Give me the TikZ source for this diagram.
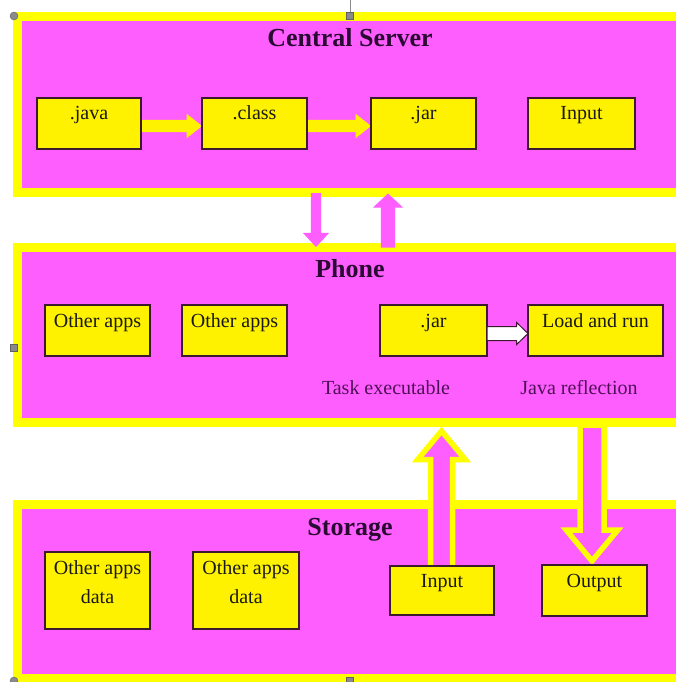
\documentclass[tikz,border=0pt]{standalone}
\usepackage{fontspec}
\setmainfont{Liberation Serif}
\usetikzlibrary{shapes.arrows,calc}

\definecolor{panelpink}{HTML}{FF5EFF}
\definecolor{paneledge}{HTML}{FFFF00}
\definecolor{boxedge}{HTML}{3C1A2E}
\definecolor{titleink}{HTML}{2A0A33}
\definecolor{noteink}{HTML}{4E1055}
\definecolor{handlegray}{HTML}{8A8A8A}

\pgfdeclarelayer{panels}
\pgfdeclarelayer{links}
\pgfsetlayers{panels,links,main}

\begin{document}
\begin{tikzpicture}[x=1pt,y=-1pt,
  panel/.style={rectangle, draw=paneledge, fill=panelpink, line width=9pt,
    outer sep=0pt, inner sep=0pt, minimum width=662.5pt},
  filebox/.style={rectangle, draw=boxedge, fill=yellow, line width=1.2pt,
    outer sep=0pt, inner sep=0pt},
  boxtext/.style={anchor=base, inner sep=0pt, text=black!90,
    font=\fontsize{20}{29}\selectfont},
  paneltitle/.style={anchor=base, inner sep=0pt, text=titleink,
    font=\bfseries\fontsize{26}{30}\selectfont},
  note/.style={anchor=base, inner sep=0pt, text=noteink,
    font=\fontsize{20}{24}\selectfont},
  flow/.style={single arrow, anchor=tail, inner xsep=0pt, outer sep=0pt},
  bigflow/.style={fill=panelpink, draw=paneledge, line width=5.5pt,
    line join=miter, miter limit=10},
  handle/.style={fill=handlegray, draw=handlegray!70!black, line width=0.4pt}
]
\useasboundingbox (0,0) rectangle (676,682);

% ---------- the three layers ----------
\begin{pgfonlayer}{panels}
\fill[white] (0,0) rectangle (676,682);
\node[panel, minimum height=175.5pt] (central) at (348.75,104.25) {};
\node[panel, minimum height=175pt]   (phone)   at (348.75,335) {};
\node[panel, minimum height=174pt]   (storage) at (348.75,591.5) {};
\end{pgfonlayer}

\node[paneltitle] (ctitle) at (350,47)  {Central Server};
\node[paneltitle] (ptitle) at (350,277) {Phone};
\node[paneltitle] (stitle) at (350,535) {Storage};

% ---------- central server ----------
\node[filebox, minimum width=104pt, minimum height=51pt] (java)   at (89,123.5)    {};
\node[filebox, minimum width=105pt, minimum height=51pt] (class)  at (254.5,123.5) {};
\node[filebox, minimum width=105pt, minimum height=51pt] (cjar)   at (423.5,123.5) {};
\node[filebox, minimum width=107pt, minimum height=51pt] (cinput) at (581.5,123.5) {};
\node[boxtext] at ([yshift=-22pt]java.north)   {.java};
\node[boxtext] at ([yshift=-22pt]class.north)  {.class};
\node[boxtext] at ([yshift=-22pt]cjar.north)   {.jar};
\node[boxtext] at ([yshift=-22pt]cinput.north) {Input};

\begin{pgfonlayer}{links}
\node[flow, fill=yellow, minimum height=61pt, inner ysep=6pt,
      single arrow head extend=6pt, single arrow tip angle=77]
  (a1) at ([yshift=-2.5pt]java.east) {};
\node[flow, fill=yellow, minimum height=64pt, inner ysep=6pt,
      single arrow head extend=6pt, single arrow tip angle=77]
  (a2) at ([yshift=-2.5pt]class.east) {};
\end{pgfonlayer}

% ---------- exchange between server and phone ----------
\coordinate (dtop) at (316,0);
\coordinate (utop) at (388,0);
\begin{pgfonlayer}{links}
\node[flow, fill=panelpink, minimum height=54pt, inner ysep=5pt,
      single arrow head extend=8pt, single arrow tip angle=86, rotate=-90]
  (down1) at ([yshift=-1pt]dtop |- central.south) {};
\node[flow, fill=panelpink, minimum height=54pt, inner ysep=7pt,
      single arrow head extend=8pt, single arrow tip angle=94, rotate=90]
  (up1) at (utop |- phone.north) {};
\end{pgfonlayer}

% ---------- phone ----------
\node[filebox, minimum width=105pt, minimum height=51pt] (apps1) at (97.5,330.5)  {};
\node[filebox, minimum width=105pt, minimum height=51pt] (apps2) at (234.5,330.5) {};
\node[filebox, minimum width=107pt, minimum height=51pt] (pjar)  at (433.5,330.5) {};
\node[filebox, minimum width=135pt, minimum height=51pt] (load)  at (595.5,330.5) {};
\node[boxtext] at ([yshift=-22pt]apps1.north) {Other apps};
\node[boxtext] at ([yshift=-22pt]apps2.north) {Other apps};
\node[boxtext] at ([yshift=-22pt]pjar.north)  {.jar};
\node[boxtext] at ([yshift=-22pt]load.north)  {Load and run};

\node[flow, fill=white, draw=boxedge, line width=1pt,
      minimum height=41pt, inner ysep=6.5pt,
      single arrow head extend=4pt, single arrow tip angle=88]
  (a3) at ([yshift=-3pt]pjar.east) {};

\node[note] (tasklbl) at (386,394) {Task executable};
\node[note] (refllbl) at (579,394) {Java reflection};

% ---------- storage ----------
\node[filebox, minimum width=105pt, minimum height=77pt] (data1)  at (97.5,590.5) {};
\node[filebox, minimum width=106pt, minimum height=77pt] (data2)  at (246,590.5)  {};
\node[filebox, minimum width=104pt, minimum height=49pt] (sinput) at (442,590.5)  {};
\node[filebox, minimum width=105pt, minimum height=51pt] (output) at (594.5,590.5) {};
\node[boxtext] at ([yshift=-22pt]data1.north) {Other apps};
\node[boxtext] at ([yshift=-51pt]data1.north) {data};
\node[boxtext] at ([yshift=-22pt]data2.north) {Other apps};
\node[boxtext] at ([yshift=-51pt]data2.north) {data};
\node[boxtext] at ([yshift=-21pt]sinput.north) {Input};
\node[boxtext] at ([yshift=-22pt]output.north) {Output};

% ---------- exchange between phone and storage ----------
\coordinate (bigup)   at (441.5,0);
\coordinate (bigdown) at (592,0);
\coordinate (upfoot)  at (bigup |- sinput.north);
\coordinate (downtop) at (bigdown |- phone.south);
\begin{pgfonlayer}{links}
% input read by the task: storage up to phone
\draw[bigflow] (upfoot) ++(-11,4) -- ++(0,-110.5) -- ++(-12.75,0)
  -- ++(23.75,-28.5) -- ++(23.75,28.5) -- ++(-12.75,0) -- ++(0,110.5) -- cycle;
% output written back: phone down to storage
\draw[bigflow] (downtop) ++(-12,2.5) -- ++(0,105) -- ++(-13.75,0)
  -- ++(25.75,31) -- ++(25.75,-31) -- ++(-13.75,0) -- ++(0,-105) -- cycle;
\end{pgfonlayer}

% ---------- selection handles ----------
\draw[handlegray, line width=0.8pt] (350,0) -- (350,12.5);
\path[handle] (14,16) circle (4);
\path[handle] (346.5,12.5) rectangle (353.5,19.5);
\path[handle] (10.5,344.5) rectangle (17.5,351.5);
\path[handle] (14,681) circle (4);
\path[handle] (346.5,677.5) rectangle (353.5,684.5);
\end{tikzpicture}
\end{document}
